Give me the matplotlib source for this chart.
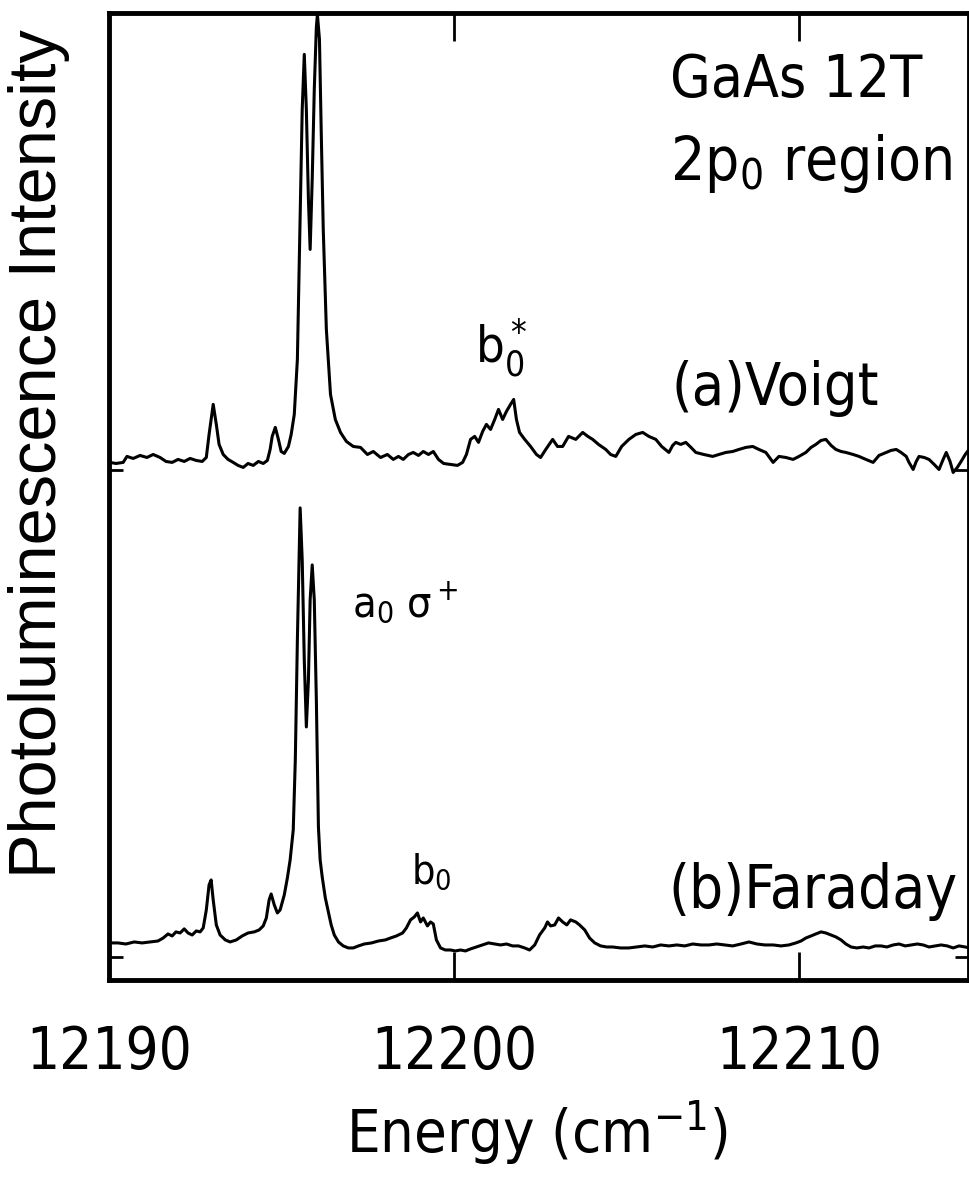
import numpy as np
import matplotlib
matplotlib.use("Agg")
import matplotlib.pyplot as plt
from matplotlib import font_manager

# the original uses a narrow plotter font: look for any condensed sans
pref = ["DejaVu Sans", "Liberation Sans Narrow", "Roboto Condensed", "Open Sans", "Noto Sans", "Roboto", "Inter", "Lato"]
cands = []
for f in font_manager.fontManager.ttflist:
    st = str(f.stretch).lower()
    if ("condensed" in st or "narrow" in f.name.lower() or "condensed" in f.name.lower()) \
            and f.style == "normal" and f.weight in (400, "normal", "regular") and "ultra" not in st and "extra" not in st:
        rank = pref.index(f.name) if f.name in pref else len(pref)
        cands.append((rank, f.name, f.stretch))
cands.sort()
if cands:
    FONT, STRETCH = cands[0][1], cands[0][2]
else:
    FONT, STRETCH = "Liberation Sans", "normal"

plt.rcParams["font.family"] = [FONT, "DejaVu Sans"]
plt.rcParams["font.stretch"] = STRETCH
plt.rcParams["mathtext.fontset"] = "custom"
plt.rcParams["mathtext.default"] = "regular"

# (a) Voigt spectrum
voigt_e = [12190.03, 12190.20, 12190.41, 12190.52, 12190.70, 12190.90, 12191.10, 12191.28, 12191.48, 12191.65,
           12191.83, 12192.00, 12192.18, 12192.35, 12192.53, 12192.70, 12192.82, 12192.90, 12193.02, 12193.11,
           12193.19, 12193.31, 12193.45, 12193.60, 12193.74, 12193.89, 12194.03, 12194.18, 12194.33, 12194.47,
           12194.59, 12194.67, 12194.73, 12194.82, 12194.91, 12194.99, 12195.08, 12195.20, 12195.28, 12195.37,
           12195.46, 12195.54, 12195.60, 12195.66, 12195.72, 12195.78, 12195.83, 12195.89, 12195.95, 12196.01,
           12196.04, 12196.10, 12196.15, 12196.21, 12196.30, 12196.42, 12196.56, 12196.71, 12196.88, 12197.08,
           12197.29, 12197.49, 12197.66, 12197.87, 12198.07, 12198.24, 12198.39, 12198.53, 12198.68, 12198.82,
           12198.97, 12199.11, 12199.26, 12199.40, 12199.55, 12199.70, 12199.90, 12200.10, 12200.25, 12200.36,
           12200.48, 12200.60, 12200.71, 12200.83, 12200.94, 12201.06, 12201.18, 12201.29, 12201.41, 12201.52,
           12201.64, 12201.73, 12201.81, 12201.90, 12202.05, 12202.22, 12202.39, 12202.51, 12202.66, 12202.86,
           12203.00, 12203.15, 12203.32, 12203.53, 12203.73, 12203.88, 12204.02, 12204.19, 12204.40, 12204.54,
           12204.69, 12204.86, 12205.07, 12205.27, 12205.47, 12205.65, 12205.85, 12206.02, 12206.23, 12206.34,
           12206.43, 12206.57, 12206.72, 12206.87, 12207.01, 12207.24, 12207.50, 12207.68, 12207.88, 12208.08,
           12208.26, 12208.46, 12208.66, 12208.84, 12209.04, 12209.25, 12209.42, 12209.62, 12209.83, 12210.00,
           12210.20, 12210.35, 12210.49, 12210.64, 12210.78, 12210.93, 12211.07, 12211.22, 12211.36, 12211.57,
           12211.74, 12211.94, 12212.15, 12212.32, 12212.53, 12212.67, 12212.82, 12212.96, 12213.11, 12213.19,
           12213.31, 12213.40, 12213.48, 12213.63, 12213.77, 12213.92, 12214.06, 12214.18, 12214.27, 12214.38,
           12214.47, 12214.59, 12214.70, 12214.82, 12214.93]
voigt_i = [0.83, 0.72, 0.83, 1.45, 1.24, 1.55, 1.34, 1.65, 1.34, 0.93,
           0.83, 1.14, 0.93, 1.24, 1.03, 0.93, 1.34, 3.72, 6.83, 4.76,
           2.69, 1.65, 1.14, 0.83, 0.52, 0.31, 0.72, 0.52, 0.93, 0.72,
           1.03, 2.17, 3.52, 4.45, 3.21, 1.96, 1.76, 2.48, 3.72, 5.79,
           11.48, 25.95, 37.33, 43.02, 37.33, 28.02, 22.85, 30.09, 39.40, 45.81,
           47.15, 44.57, 35.26, 24.92, 14.58, 7.86, 5.27, 3.93, 3.00, 2.48,
           2.38, 1.65, 1.96, 1.34, 1.65, 1.14, 1.45, 1.14, 1.65, 1.86,
           1.55, 1.96, 1.65, 1.96, 1.14, 0.72, 0.62, 0.52, 0.83, 1.65,
           3.21, 3.52, 2.90, 4.03, 4.76, 4.24, 5.27, 6.31, 5.27, 6.10,
           6.83, 7.34, 5.27, 3.93, 3.21, 2.48, 1.65, 1.34, 2.17, 3.21,
           2.48, 2.48, 3.52, 3.21, 3.93, 3.52, 3.21, 2.69, 2.17, 1.65,
           1.45, 2.48, 3.21, 3.72, 3.93, 3.52, 3.21, 2.48, 1.86, 2.59,
           2.90, 2.69, 2.90, 2.38, 1.86, 1.65, 1.45, 1.65, 1.86, 1.96,
           2.17, 2.38, 2.48, 2.17, 1.86, 0.83, 1.45, 1.34, 1.14, 1.45,
           1.86, 2.38, 2.69, 3.10, 3.21, 2.59, 2.17, 1.96, 1.86, 1.65,
           1.45, 1.14, 0.83, 1.55, 1.86, 2.07, 2.17, 1.86, 1.45, 0.83,
           0.10, 0.93, 1.45, 1.34, 1.14, 0.62, 0.10, 1.14, 1.86, 0.93,
           -0.21, 0.31, 0.93, 1.65, 2.17]

# (b) Faraday spectrum
faraday_e = [12190.03, 12190.26, 12190.49, 12190.73, 12190.96, 12191.19, 12191.42, 12191.57, 12191.71, 12191.83,
             12191.94, 12192.06, 12192.18, 12192.29, 12192.41, 12192.53, 12192.64, 12192.73, 12192.82, 12192.90,
             12192.96, 12193.02, 12193.11, 12193.22, 12193.37, 12193.51, 12193.69, 12193.86, 12194.03, 12194.21,
             12194.35, 12194.47, 12194.56, 12194.64, 12194.70, 12194.79, 12194.88, 12194.96, 12195.08, 12195.17,
             12195.25, 12195.34, 12195.40, 12195.46, 12195.52, 12195.54, 12195.60, 12195.66, 12195.72, 12195.78,
             12195.83, 12195.89, 12195.95, 12196.01, 12196.07, 12196.12, 12196.18, 12196.27, 12196.36, 12196.44,
             12196.53, 12196.65, 12196.79, 12196.94, 12197.08, 12197.23, 12197.40, 12197.61, 12197.81, 12198.01,
             12198.16, 12198.33, 12198.51, 12198.62, 12198.74, 12198.85, 12198.94, 12199.03, 12199.11, 12199.23,
             12199.32, 12199.40, 12199.49, 12199.61, 12199.75, 12199.90, 12200.04, 12200.19, 12200.33, 12200.48,
             12200.65, 12200.83, 12201.00, 12201.18, 12201.35, 12201.52, 12201.70, 12201.87, 12202.05, 12202.19,
             12202.34, 12202.48, 12202.63, 12202.71, 12202.80, 12202.92, 12203.03, 12203.15, 12203.27, 12203.38,
             12203.53, 12203.64, 12203.79, 12203.93, 12204.08, 12204.25, 12204.43, 12204.60, 12204.83, 12205.07,
             12205.30, 12205.53, 12205.76, 12205.99, 12206.23, 12206.46, 12206.69, 12206.92, 12207.16, 12207.39,
             12207.62, 12207.85, 12208.08, 12208.32, 12208.55, 12208.78, 12209.01, 12209.25, 12209.48, 12209.71,
             12209.91, 12210.06, 12210.20, 12210.35, 12210.49, 12210.64, 12210.78, 12210.93, 12211.07, 12211.22,
             12211.36, 12211.51, 12211.68, 12211.86, 12212.03, 12212.21, 12212.38, 12212.55, 12212.73, 12212.90,
             12213.08, 12213.25, 12213.43, 12213.60, 12213.77, 12213.95, 12214.12, 12214.30, 12214.47, 12214.64,
             12214.82, 12214.93]
faraday_i = [1.45, 1.45, 1.34, 1.55, 1.45, 1.55, 1.65, 1.96, 2.38, 2.17,
             2.59, 2.48, 2.90, 2.48, 2.27, 2.69, 2.59, 3.00, 4.86, 7.45,
             7.96, 5.89, 3.31, 2.27, 1.76, 1.55, 1.76, 2.17, 2.48, 2.59,
             2.79, 3.21, 4.03, 5.89, 6.51, 5.38, 4.55, 4.86, 6.41, 8.17,
             10.03, 13.13, 20.37, 32.78, 43.12, 46.43, 41.05, 30.71, 23.78, 28.64,
             36.91, 40.53, 36.91, 26.57, 13.44, 10.03, 8.27, 6.10, 4.65, 3.31,
             2.27, 1.55, 1.14, 0.93, 0.93, 1.14, 1.34, 1.45, 1.65, 1.76,
             1.96, 2.17, 2.48, 3.00, 3.83, 4.14, 4.55, 3.62, 4.03, 3.21,
             3.62, 3.41, 1.76, 0.93, 0.72, 0.72, 0.62, 0.72, 0.62, 0.83,
             1.03, 1.24, 1.45, 1.34, 1.24, 1.34, 1.14, 1.14, 0.93, 0.72,
             1.24, 2.27, 3.00, 3.62, 3.21, 3.31, 4.03, 3.62, 3.31, 3.83,
             3.62, 3.31, 2.79, 1.96, 1.45, 1.14, 1.03, 1.03, 0.93, 0.93,
             1.03, 1.14, 1.03, 1.24, 1.14, 1.24, 1.14, 1.34, 1.24, 1.24,
             1.34, 1.24, 1.14, 1.34, 1.55, 1.34, 1.24, 1.24, 1.14, 1.24,
             1.45, 1.65, 1.96, 2.17, 2.38, 2.59, 2.48, 2.27, 2.07, 1.76,
             1.34, 1.03, 0.93, 1.03, 0.93, 1.14, 1.14, 1.03, 1.24, 1.34,
             1.14, 1.24, 1.34, 1.24, 1.03, 1.14, 1.24, 1.14, 0.93, 1.14,
             1.03, 0.93]

voigt_offset = 50.3
xticks = [12190, 12200, 12210]

fig = plt.figure(figsize=(9.7, 11.77), dpi=100)
ax = fig.add_axes([0.1124, 0.1674, 0.8866, 0.8216])
renderer = fig.canvas.get_renderer()


def fit(t, width=None, height=None, limit=None):
    # scale a text's font so its box has the wanted size in pixels
    bb = t.get_window_extent(renderer)
    k = width / bb.width if width else height / bb.height
    if limit:
        k = min(k, limit / t.get_fontsize())
    t.set_fontsize(t.get_fontsize() * k)
    return t.get_fontsize()


ax.plot(voigt_e, np.array(voigt_i) + voigt_offset, color="black", lw=2.2)
ax.plot(faraday_e, faraday_i, color="black", lw=2.2)

ax.set_xlim(12190, 12214.93)
ax.set_ylim(-2.38, 97.6)

# tick label size: "12190" is about 155 px wide in the original
probe = fig.text(0, 0, "12190", fontsize=40)
tick_size = fit(probe, width=166, limit=48)
probe.remove()

ax.set_xticks(xticks)
ax.set_xticklabels([str(t) for t in xticks])
ax.set_yticks([0, voigt_offset])
ax.set_yticklabels([])
ax.tick_params(axis="x", direction="in", length=20, width=2, top=True, labelsize=tick_size, pad=32)
ax.tick_params(axis="y", direction="in", length=10, width=2, right=True)
for s in ax.spines.values():
    s.set_linewidth(3.5)

xl = fig.text(537 / 970, 24 / 1177, "Energy (cm$^{-1}$)", fontsize=44, ha="center", va="baseline")
fit(xl, width=382, limit=50)
yl = fig.text(0.040, 0.615, "Photoluminescence Intensity", rotation=90, fontsize=46,
              ha="center", va="center", family="Liberation Sans", stretch="normal")
fit(yl, height=847)

labels = [
    (0.652, 0.913, "GaAs 12T", 252),
    (0.652, 0.827, "2p$_0$ region", 282),
    (0.654, 0.595, "(a)Voigt", 207),
    (0.650, 0.0745, "(b)Faraday", 289),
    (0.425, 0.638, "b$_0^*$", 52),
    (0.283, 0.375, "a$_0$ σ$^+$", 106),
    (0.351, 0.100, "b$_0$", 40),
]
for x, y, s, w in labels:
    t = ax.text(x, y, s, transform=ax.transAxes, fontsize=40, va="baseline")
    fit(t, width=w, limit=50)

fig.savefig("out.png", dpi=100)
